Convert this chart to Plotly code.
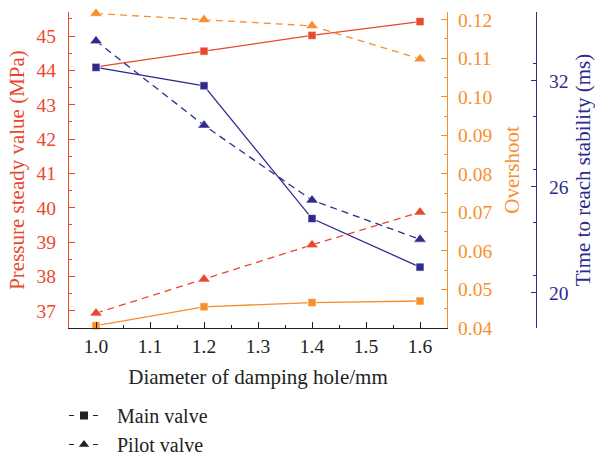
import plotly.graph_objects as go

# Damping hole diameter (mm)
diameter = [1.0, 1.2, 1.4, 1.6]

# Pressure steady value (MPa)
pressure_main = [44.10, 44.56, 45.02, 45.42]
pressure_pilot = [36.93, 37.92, 38.92, 39.87]

# Overshoot
overshoot_main = [0.0406, 0.0455, 0.0466, 0.0470]
overshoot_pilot = [0.1216, 0.1200, 0.1184, 0.1098]

# Time to reach stability (ms)
time_main = [32.76, 31.72, 24.20, 21.45]
time_pilot = [34.26, 29.48, 25.24, 23.02]

RED = "#e9482c"
ORANGE = "#f78f2e"
BLUE = "#2e2a8e"
INK = "#222222"
FONT = '"Liberation Serif", "Times New Roman", serif'
DASH = "7px,5px"
FS = 21
TFS = 19.5
LFS = 20

W, H = 595, 457
ML, MR, MT, MB = 69, 59, 12, 129
plot_w = 447 - ML
paper_w = W - ML - MR
paper_h = H - MT - MB

fig = go.Figure()


def add(y, axis, color, symbol, dashed, size):
    fig.add_trace(go.Scatter(
        x=diameter, y=y, yaxis=axis, mode="lines+markers",
        line=dict(color=color, width=1.3, dash=DASH if dashed else "solid"),
        marker=dict(symbol=symbol, size=size, color=color,
                    line=dict(color="white", width=0.6)),
        cliponaxis=False, showlegend=False, hoverinfo="x+y",
    ))


add(pressure_pilot, "y", RED, "triangle-up", True, 11)
add(overshoot_pilot, "y2", ORANGE, "triangle-up", True, 11)
add(overshoot_main, "y2", ORANGE, "square", False, 8)
add(pressure_main, "y", RED, "square", False, 8)
add(time_pilot, "y3", BLUE, "triangle-up", True, 11)
add(time_main, "y3", BLUE, "square", False, 8)

# Legend entries (line style / marker key): short dash on each side of the marker
LEGEND_DASH = "0px,13px,5px,19px,5px,100px"
for name, symbol, size in [("Main valve", "square", 8), ("Pilot valve", "triangle-up", 9)]:
    fig.add_trace(go.Scatter(
        x=[None], y=[None], mode="lines+markers", name=name,
        line=dict(color=INK, width=1, dash=LEGEND_DASH),
        marker=dict(symbol=symbol, size=size, color=INK),
        showlegend=True,
    ))

fig.update_layout(
    width=W, height=H,
    margin=dict(l=ML, r=MR, t=MT, b=MB, autoexpand=False),
    paper_bgcolor="white", plot_bgcolor="white",
    font=dict(family=FONT, size=FS, color=INK),
    xaxis=dict(
        domain=[0, plot_w / paper_w], range=[0.95, 1.65],
        dtick=0.1, tick0=1.0, tickformat=".1f",
        ticks="inside", ticklen=6, tickwidth=1, tickcolor=INK,
        minor=dict(dtick=0.05, ticks="inside", ticklen=3, tickcolor=INK),
        showline=True, linecolor=INK, linewidth=1.2,
        showgrid=False, zeroline=False,
        tickfont=dict(size=TFS, color=INK),
        title=dict(text="Diameter of damping hole/mm", standoff=13,
                   font=dict(size=FS, color=INK)),
    ),
    yaxis=dict(
        range=[36.5, 45.7], dtick=1, tick0=37,
        ticks="inside", ticklen=6, tickcolor=RED,
        minor=dict(dtick=0.5, ticks="inside", ticklen=3, tickcolor=RED),
        showline=True, linecolor=RED, linewidth=1.2,
        showgrid=False, zeroline=False,
        tickfont=dict(size=TFS, color=RED), ticklabelstandoff=8,
        title=dict(text="Pressure steady value (MPa)", standoff=6,
                   font=dict(color=RED, size=FS)),
    ),
    yaxis2=dict(
        overlaying="y", anchor="x", side="right",
        range=[0.04, 0.122], dtick=0.01, tick0=0.04, tickformat=".2f",
        ticks="inside", ticklen=6, tickcolor=ORANGE,
        minor=dict(dtick=0.005, ticks="inside", ticklen=3, tickcolor=ORANGE),
        showline=True, linecolor=ORANGE, linewidth=1.2,
        showgrid=False, zeroline=False,
        tickfont=dict(size=TFS, color=ORANGE), ticklabelstandoff=6,
        title=dict(text="Overshoot", standoff=12,
                   font=dict(color=ORANGE, size=FS)),
    ),
    yaxis3=dict(
        overlaying="y", anchor="free", position=1.0, side="right",
        range=[18.0, 35.9], dtick=6, tick0=20,
        ticks="inside", ticklen=5, tickcolor=BLUE,
        minor=dict(dtick=3, ticks="inside", ticklen=3, tickcolor=BLUE),
        showline=True, linecolor=BLUE, linewidth=1.2,
        showgrid=False, zeroline=False,
        tickfont=dict(size=TFS, color=BLUE), ticklabelstandoff=8,
        title=dict(text="Time to reach stability (ms)", standoff=14,
                   font=dict(color=BLUE, size=FS)),
    ),
    legend=dict(
        x=(51 - ML) / paper_w, y=(MT + paper_h - 396) / paper_h,
        xanchor="left", yanchor="top",
        bgcolor="rgba(0,0,0,0)", font=dict(size=LFS, color=INK),
        tracegroupgap=0, itemwidth=56,
    ),
)

fig.write_html("out.html")
